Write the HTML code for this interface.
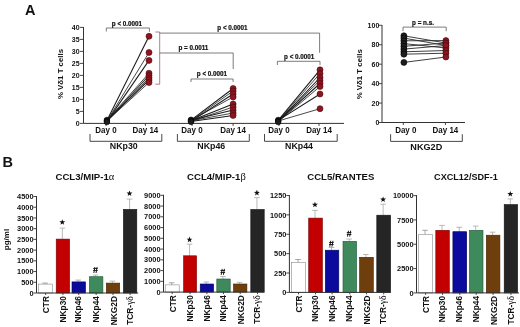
<!DOCTYPE html>
<html><head><meta charset="utf-8"><style>
html,body{margin:0;padding:0;background:#fff;width:520px;height:327px;overflow:hidden}
svg{display:block;font-family:"Liberation Sans", sans-serif;filter:blur(0.5px)}
</style></head><body>
<svg width="520" height="327" viewBox="0 0 520 327">
<rect width="520" height="327" fill="#fff"/>
<text x="25.0" y="14.8" font-size="14.5" text-anchor="start" font-weight="bold" fill="#111">A</text>
<line x1="83.5" y1="27.0" x2="83.5" y2="123.4" stroke="#333" stroke-width="1.0"/>
<line x1="80.0" y1="123.4" x2="83.5" y2="123.4" stroke="#333" stroke-width="0.9"/>
<text x="79.6" y="125.85000000000001" font-size="7" text-anchor="end" font-weight="bold" fill="#111">0</text>
<line x1="80.0" y1="111.4" x2="83.5" y2="111.4" stroke="#333" stroke-width="0.9"/>
<text x="79.6" y="113.85000000000001" font-size="7" text-anchor="end" font-weight="bold" fill="#111">5</text>
<line x1="80.0" y1="99.4" x2="83.5" y2="99.4" stroke="#333" stroke-width="0.9"/>
<text x="79.6" y="101.85000000000001" font-size="7" text-anchor="end" font-weight="bold" fill="#111">10</text>
<line x1="80.0" y1="87.4" x2="83.5" y2="87.4" stroke="#333" stroke-width="0.9"/>
<text x="79.6" y="89.85000000000001" font-size="7" text-anchor="end" font-weight="bold" fill="#111">15</text>
<line x1="80.0" y1="75.4" x2="83.5" y2="75.4" stroke="#333" stroke-width="0.9"/>
<text x="79.6" y="77.85000000000001" font-size="7" text-anchor="end" font-weight="bold" fill="#111">20</text>
<line x1="80.0" y1="63.400000000000006" x2="83.5" y2="63.400000000000006" stroke="#333" stroke-width="0.9"/>
<text x="79.6" y="65.85000000000001" font-size="7" text-anchor="end" font-weight="bold" fill="#111">25</text>
<line x1="80.0" y1="51.400000000000006" x2="83.5" y2="51.400000000000006" stroke="#333" stroke-width="0.9"/>
<text x="79.6" y="53.85000000000001" font-size="7" text-anchor="end" font-weight="bold" fill="#111">30</text>
<line x1="80.0" y1="39.400000000000006" x2="83.5" y2="39.400000000000006" stroke="#333" stroke-width="0.9"/>
<text x="79.6" y="41.85000000000001" font-size="7" text-anchor="end" font-weight="bold" fill="#111">35</text>
<line x1="80.0" y1="27.400000000000006" x2="83.5" y2="27.400000000000006" stroke="#333" stroke-width="0.9"/>
<text x="79.6" y="29.850000000000005" font-size="7" text-anchor="end" font-weight="bold" fill="#111">40</text>
<text x="0" y="0" transform="translate(62.8 74.0) rotate(-90)" font-size="7.85" text-anchor="middle" font-weight="bold" fill="#111">% V&#948;1 T cells</text>
<line x1="83.5" y1="123.4" x2="344.0" y2="123.4" stroke="#333" stroke-width="1.0"/>
<line x1="106.0" y1="123.4" x2="106.0" y2="125.9" stroke="#333" stroke-width="0.9"/>
<line x1="145.4" y1="123.4" x2="145.4" y2="125.9" stroke="#333" stroke-width="0.9"/>
<text x="0" y="0" transform="translate(106.0 133.3) scale(0.94 1)" font-size="8.5" text-anchor="middle" font-weight="bold" fill="#111">Day 0</text>
<text x="0" y="0" transform="translate(145.4 133.3) scale(0.94 1)" font-size="8.5" text-anchor="middle" font-weight="bold" fill="#111">Day 14</text>
<polyline points="90.0,134.0 90.0,141.3 161.8,141.3 161.8,134.0" fill="none" stroke="#333" stroke-width="0.9"/>
<text x="0" y="0" transform="translate(123.8 149.2) scale(0.93 1)" font-size="9.5" text-anchor="middle" font-weight="bold" fill="#111">NKp30</text>
<line x1="106.9" y1="120.4" x2="149.0" y2="36.3" stroke="#1a1a1a" stroke-width="1.05"/>
<line x1="106.9" y1="121.0" x2="149.0" y2="52.5" stroke="#1a1a1a" stroke-width="0.8"/>
<line x1="106.9" y1="121.6" x2="149.0" y2="60.4" stroke="#1a1a1a" stroke-width="1.05"/>
<line x1="106.9" y1="120.4" x2="149.0" y2="73.2" stroke="#1a1a1a" stroke-width="0.8"/>
<line x1="106.9" y1="121.0" x2="149.0" y2="75.5" stroke="#1a1a1a" stroke-width="1.05"/>
<line x1="106.9" y1="121.6" x2="149.0" y2="77.8" stroke="#1a1a1a" stroke-width="0.8"/>
<line x1="106.9" y1="120.4" x2="149.0" y2="80.0" stroke="#1a1a1a" stroke-width="1.05"/>
<line x1="106.9" y1="121.0" x2="149.0" y2="82.5" stroke="#1a1a1a" stroke-width="0.8"/>
<circle cx="106.9" cy="120.0" r="2.8" fill="#1e1e1e" stroke="#000" stroke-width="0.6"/>
<circle cx="106.9" cy="121.0" r="2.8" fill="#1e1e1e" stroke="#000" stroke-width="0.6"/>
<circle cx="106.9" cy="122.0" r="2.8" fill="#1e1e1e" stroke="#000" stroke-width="0.6"/>
<circle cx="149.0" cy="36.3" r="3.0" fill="#8e1420" stroke="#4a0808" stroke-width="0.6"/>
<circle cx="149.0" cy="52.5" r="3.0" fill="#8e1420" stroke="#4a0808" stroke-width="0.6"/>
<circle cx="149.0" cy="60.4" r="3.0" fill="#8e1420" stroke="#4a0808" stroke-width="0.6"/>
<circle cx="149.0" cy="73.2" r="3.0" fill="#8e1420" stroke="#4a0808" stroke-width="0.6"/>
<circle cx="149.0" cy="75.5" r="3.0" fill="#8e1420" stroke="#4a0808" stroke-width="0.6"/>
<circle cx="149.0" cy="77.8" r="3.0" fill="#8e1420" stroke="#4a0808" stroke-width="0.6"/>
<circle cx="149.0" cy="80.0" r="3.0" fill="#8e1420" stroke="#4a0808" stroke-width="0.6"/>
<circle cx="149.0" cy="82.5" r="3.0" fill="#8e1420" stroke="#4a0808" stroke-width="0.6"/>
<line x1="192.0" y1="123.4" x2="192.0" y2="125.9" stroke="#333" stroke-width="0.9"/>
<line x1="233.1" y1="123.4" x2="233.1" y2="125.9" stroke="#333" stroke-width="0.9"/>
<text x="0" y="0" transform="translate(192.0 133.3) scale(0.94 1)" font-size="8.5" text-anchor="middle" font-weight="bold" fill="#111">Day 0</text>
<text x="0" y="0" transform="translate(233.1 133.3) scale(0.94 1)" font-size="8.5" text-anchor="middle" font-weight="bold" fill="#111">Day 14</text>
<polyline points="177.4,134.0 177.4,141.3 249.3,141.3 249.3,134.0" fill="none" stroke="#333" stroke-width="0.9"/>
<text x="0" y="0" transform="translate(211.3 149.2) scale(0.93 1)" font-size="9.5" text-anchor="middle" font-weight="bold" fill="#111">NKp46</text>
<line x1="191.0" y1="120.2" x2="233.1" y2="88.5" stroke="#1a1a1a" stroke-width="1.05"/>
<line x1="191.0" y1="120.8" x2="233.1" y2="91.0" stroke="#1a1a1a" stroke-width="0.8"/>
<line x1="191.0" y1="121.39999999999999" x2="233.1" y2="94.0" stroke="#1a1a1a" stroke-width="1.05"/>
<line x1="191.0" y1="120.2" x2="233.1" y2="97.0" stroke="#1a1a1a" stroke-width="0.8"/>
<line x1="191.0" y1="120.8" x2="233.1" y2="104.0" stroke="#1a1a1a" stroke-width="1.05"/>
<line x1="191.0" y1="121.39999999999999" x2="233.1" y2="107.0" stroke="#1a1a1a" stroke-width="0.8"/>
<line x1="191.0" y1="120.2" x2="233.1" y2="110.0" stroke="#1a1a1a" stroke-width="1.05"/>
<line x1="191.0" y1="120.8" x2="233.1" y2="113.0" stroke="#1a1a1a" stroke-width="0.8"/>
<line x1="191.0" y1="121.39999999999999" x2="233.1" y2="115.5" stroke="#1a1a1a" stroke-width="1.05"/>
<circle cx="191.0" cy="119.8" r="2.8" fill="#1e1e1e" stroke="#000" stroke-width="0.6"/>
<circle cx="191.0" cy="120.8" r="2.8" fill="#1e1e1e" stroke="#000" stroke-width="0.6"/>
<circle cx="191.0" cy="121.8" r="2.8" fill="#1e1e1e" stroke="#000" stroke-width="0.6"/>
<circle cx="233.1" cy="88.5" r="3.0" fill="#8e1420" stroke="#4a0808" stroke-width="0.6"/>
<circle cx="233.1" cy="91.0" r="3.0" fill="#8e1420" stroke="#4a0808" stroke-width="0.6"/>
<circle cx="233.1" cy="94.0" r="3.0" fill="#8e1420" stroke="#4a0808" stroke-width="0.6"/>
<circle cx="233.1" cy="97.0" r="3.0" fill="#8e1420" stroke="#4a0808" stroke-width="0.6"/>
<circle cx="233.1" cy="104.0" r="3.0" fill="#8e1420" stroke="#4a0808" stroke-width="0.6"/>
<circle cx="233.1" cy="107.0" r="3.0" fill="#8e1420" stroke="#4a0808" stroke-width="0.6"/>
<circle cx="233.1" cy="110.0" r="3.0" fill="#8e1420" stroke="#4a0808" stroke-width="0.6"/>
<circle cx="233.1" cy="113.0" r="3.0" fill="#8e1420" stroke="#4a0808" stroke-width="0.6"/>
<circle cx="233.1" cy="115.5" r="3.0" fill="#8e1420" stroke="#4a0808" stroke-width="0.6"/>
<line x1="279.0" y1="123.4" x2="279.0" y2="125.9" stroke="#333" stroke-width="0.9"/>
<line x1="319.0" y1="123.4" x2="319.0" y2="125.9" stroke="#333" stroke-width="0.9"/>
<text x="0" y="0" transform="translate(279.0 133.3) scale(0.94 1)" font-size="8.5" text-anchor="middle" font-weight="bold" fill="#111">Day 0</text>
<text x="0" y="0" transform="translate(319.0 133.3) scale(0.94 1)" font-size="8.5" text-anchor="middle" font-weight="bold" fill="#111">Day 14</text>
<polyline points="264.5,134.0 264.5,141.3 337.2,141.3 337.2,134.0" fill="none" stroke="#333" stroke-width="0.9"/>
<text x="0" y="0" transform="translate(299.0 149.2) scale(0.93 1)" font-size="9.5" text-anchor="middle" font-weight="bold" fill="#111">NKp44</text>
<line x1="278.2" y1="120.4" x2="320.0" y2="69.8" stroke="#1a1a1a" stroke-width="1.05"/>
<line x1="278.2" y1="121.0" x2="320.0" y2="73.5" stroke="#1a1a1a" stroke-width="0.8"/>
<line x1="278.2" y1="121.6" x2="320.0" y2="77.5" stroke="#1a1a1a" stroke-width="1.05"/>
<line x1="278.2" y1="120.4" x2="320.0" y2="80.5" stroke="#1a1a1a" stroke-width="0.8"/>
<line x1="278.2" y1="121.0" x2="320.0" y2="83.5" stroke="#1a1a1a" stroke-width="1.05"/>
<line x1="278.2" y1="121.6" x2="320.0" y2="86.5" stroke="#1a1a1a" stroke-width="0.8"/>
<line x1="278.2" y1="120.4" x2="320.0" y2="94.0" stroke="#1a1a1a" stroke-width="1.05"/>
<line x1="278.2" y1="121.0" x2="320.0" y2="108.7" stroke="#1a1a1a" stroke-width="0.8"/>
<circle cx="278.2" cy="120.0" r="2.8" fill="#1e1e1e" stroke="#000" stroke-width="0.6"/>
<circle cx="278.2" cy="121.0" r="2.8" fill="#1e1e1e" stroke="#000" stroke-width="0.6"/>
<circle cx="278.2" cy="122.0" r="2.8" fill="#1e1e1e" stroke="#000" stroke-width="0.6"/>
<circle cx="320.0" cy="69.8" r="3.0" fill="#8e1420" stroke="#4a0808" stroke-width="0.6"/>
<circle cx="320.0" cy="73.5" r="3.0" fill="#8e1420" stroke="#4a0808" stroke-width="0.6"/>
<circle cx="320.0" cy="77.5" r="3.0" fill="#8e1420" stroke="#4a0808" stroke-width="0.6"/>
<circle cx="320.0" cy="80.5" r="3.0" fill="#8e1420" stroke="#4a0808" stroke-width="0.6"/>
<circle cx="320.0" cy="83.5" r="3.0" fill="#8e1420" stroke="#4a0808" stroke-width="0.6"/>
<circle cx="320.0" cy="86.5" r="3.0" fill="#8e1420" stroke="#4a0808" stroke-width="0.6"/>
<circle cx="320.0" cy="94.0" r="3.0" fill="#8e1420" stroke="#4a0808" stroke-width="0.6"/>
<circle cx="320.0" cy="108.7" r="3.0" fill="#8e1420" stroke="#4a0808" stroke-width="0.6"/>
<polyline points="106.3,31.5 106.3,28.0 149.4,28.0 149.4,31.8" fill="none" stroke="#5a5a5a" stroke-width="0.8"/>
<text x="127.0" y="25.8" font-size="6.3" text-anchor="middle" font-weight="bold" fill="#111" stroke="#111" stroke-width="0.2">p &lt; 0.0001</text>
<polyline points="155.3,32.0 159.7,32.0 159.7,84.2 155.3,84.2" fill="none" stroke="#8a6868" stroke-width="0.8"/>
<polyline points="159.7,33.1 319.6,33.1 319.6,52.8" fill="none" stroke="#5a5a5a" stroke-width="0.8"/>
<text x="232.5" y="29.6" font-size="6.3" text-anchor="middle" font-weight="bold" fill="#111" stroke="#111" stroke-width="0.2">p &lt; 0.0001</text>
<polyline points="159.7,53.0 233.2,53.0 233.2,69.0" fill="none" stroke="#5a5a5a" stroke-width="0.8"/>
<text x="193.4" y="50.4" font-size="6.3" text-anchor="middle" font-weight="bold" fill="#111" stroke="#111" stroke-width="0.2">p = 0.0011</text>
<polyline points="191.0,82.0 191.0,79.0 233.1,79.0 233.1,82.0" fill="none" stroke="#5a5a5a" stroke-width="0.8"/>
<text x="212.0" y="76.2" font-size="6.3" text-anchor="middle" font-weight="bold" fill="#111" stroke="#111" stroke-width="0.2">p &lt; 0.0001</text>
<polyline points="277.4,65.0 277.4,61.3 320.0,61.3 320.0,65.0" fill="none" stroke="#5a5a5a" stroke-width="0.8"/>
<text x="299.2" y="58.9" font-size="6.3" text-anchor="middle" font-weight="bold" fill="#111" stroke="#111" stroke-width="0.2">p &lt; 0.0001</text>
<line x1="382.0" y1="25.0" x2="382.0" y2="122.5" stroke="#333" stroke-width="1.0"/>
<line x1="379.0" y1="122.5" x2="382.0" y2="122.5" stroke="#333" stroke-width="0.9"/>
<text x="379.3" y="124.95" font-size="7" text-anchor="end" font-weight="bold" fill="#111">0</text>
<line x1="379.0" y1="103.06" x2="382.0" y2="103.06" stroke="#333" stroke-width="0.9"/>
<text x="379.3" y="105.51" font-size="7" text-anchor="end" font-weight="bold" fill="#111">20</text>
<line x1="379.0" y1="83.62" x2="382.0" y2="83.62" stroke="#333" stroke-width="0.9"/>
<text x="379.3" y="86.07000000000001" font-size="7" text-anchor="end" font-weight="bold" fill="#111">40</text>
<line x1="379.0" y1="64.18" x2="382.0" y2="64.18" stroke="#333" stroke-width="0.9"/>
<text x="379.3" y="66.63000000000001" font-size="7" text-anchor="end" font-weight="bold" fill="#111">60</text>
<line x1="379.0" y1="44.74000000000001" x2="382.0" y2="44.74000000000001" stroke="#333" stroke-width="0.9"/>
<text x="379.3" y="47.19000000000001" font-size="7" text-anchor="end" font-weight="bold" fill="#111">80</text>
<line x1="379.0" y1="25.299999999999997" x2="382.0" y2="25.299999999999997" stroke="#333" stroke-width="0.9"/>
<text x="379.3" y="27.749999999999996" font-size="7" text-anchor="end" font-weight="bold" fill="#111">100</text>
<text x="0" y="0" transform="translate(362.2 74.3) rotate(-90)" font-size="7.85" text-anchor="middle" font-weight="bold" fill="#111">% V&#948;1 T cells</text>
<line x1="382.0" y1="122.5" x2="465.0" y2="122.5" stroke="#333" stroke-width="1.0"/>
<line x1="403.3" y1="122.5" x2="403.3" y2="125.0" stroke="#333" stroke-width="0.9"/>
<text x="0" y="0" transform="translate(405.8 133.4) scale(0.94 1)" font-size="8.5" text-anchor="middle" font-weight="bold" fill="#111">Day 0</text>
<line x1="445.4" y1="122.5" x2="445.4" y2="125.0" stroke="#333" stroke-width="0.9"/>
<text x="0" y="0" transform="translate(445.4 133.4) scale(0.94 1)" font-size="8.5" text-anchor="middle" font-weight="bold" fill="#111">Day 14</text>
<polyline points="390.6,134.2 390.6,141.4 462.3,141.4 462.3,134.2" fill="none" stroke="#333" stroke-width="0.9"/>
<text x="0" y="0" transform="translate(426.3 149.6) scale(0.96 1)" font-size="9.5" text-anchor="middle" font-weight="bold" fill="#111">NKG2D</text>
<polyline points="403.0,31.2 403.0,27.1 446.2,27.1 446.2,31.2" fill="none" stroke="#5a5a5a" stroke-width="0.8"/>
<text x="423.0" y="24.6" font-size="6.3" text-anchor="middle" font-weight="bold" fill="#111" stroke="#111" stroke-width="0.2">p = n.s.</text>
<line x1="403.9" y1="35.8" x2="445.9" y2="43.0" stroke="#2a2a2a" stroke-width="0.9"/>
<line x1="403.9" y1="38.1" x2="445.9" y2="45.5" stroke="#2a2a2a" stroke-width="0.9"/>
<line x1="403.9" y1="40.8" x2="445.9" y2="40.6" stroke="#2a2a2a" stroke-width="0.9"/>
<line x1="403.9" y1="43.6" x2="445.9" y2="48.0" stroke="#2a2a2a" stroke-width="0.9"/>
<line x1="403.9" y1="46.3" x2="445.9" y2="43.0" stroke="#2a2a2a" stroke-width="0.9"/>
<line x1="403.9" y1="49.1" x2="445.9" y2="45.5" stroke="#2a2a2a" stroke-width="0.9"/>
<line x1="403.9" y1="51.8" x2="445.9" y2="50.5" stroke="#2a2a2a" stroke-width="0.9"/>
<line x1="403.9" y1="54.2" x2="445.9" y2="53.2" stroke="#2a2a2a" stroke-width="0.9"/>
<line x1="403.9" y1="62.4" x2="445.9" y2="57.0" stroke="#2a2a2a" stroke-width="0.9"/>
<circle cx="403.9" cy="35.8" r="3.0" fill="#1e1e1e" stroke="#000" stroke-width="0.6"/>
<circle cx="403.9" cy="38.1" r="3.0" fill="#1e1e1e" stroke="#000" stroke-width="0.6"/>
<circle cx="403.9" cy="40.8" r="3.0" fill="#1e1e1e" stroke="#000" stroke-width="0.6"/>
<circle cx="403.9" cy="43.6" r="3.0" fill="#1e1e1e" stroke="#000" stroke-width="0.6"/>
<circle cx="403.9" cy="46.3" r="3.0" fill="#1e1e1e" stroke="#000" stroke-width="0.6"/>
<circle cx="403.9" cy="49.1" r="3.0" fill="#1e1e1e" stroke="#000" stroke-width="0.6"/>
<circle cx="403.9" cy="51.8" r="3.0" fill="#1e1e1e" stroke="#000" stroke-width="0.6"/>
<circle cx="403.9" cy="54.2" r="3.0" fill="#1e1e1e" stroke="#000" stroke-width="0.6"/>
<circle cx="403.9" cy="62.4" r="3.0" fill="#1e1e1e" stroke="#000" stroke-width="0.6"/>
<circle cx="445.9" cy="43.0" r="3.0" fill="#8e1420" stroke="#3a0808" stroke-width="0.6"/>
<circle cx="445.9" cy="45.5" r="3.0" fill="#8e1420" stroke="#3a0808" stroke-width="0.6"/>
<circle cx="445.9" cy="40.6" r="3.0" fill="#8e1420" stroke="#3a0808" stroke-width="0.6"/>
<circle cx="445.9" cy="48.0" r="3.0" fill="#8e1420" stroke="#3a0808" stroke-width="0.6"/>
<circle cx="445.9" cy="43.0" r="3.0" fill="#8e1420" stroke="#3a0808" stroke-width="0.6"/>
<circle cx="445.9" cy="45.5" r="3.0" fill="#8e1420" stroke="#3a0808" stroke-width="0.6"/>
<circle cx="445.9" cy="50.5" r="3.0" fill="#8e1420" stroke="#3a0808" stroke-width="0.6"/>
<circle cx="445.9" cy="53.2" r="3.0" fill="#8e1420" stroke="#3a0808" stroke-width="0.6"/>
<circle cx="445.9" cy="57.0" r="3.0" fill="#8e1420" stroke="#3a0808" stroke-width="0.6"/>
<text x="2.4" y="167.2" font-size="14.5" text-anchor="start" font-weight="bold" fill="#111">B</text>
<text x="0" y="0" transform="translate(8.6 239.5) rotate(-90)" font-size="8" text-anchor="middle" font-weight="bold" fill="#111">pg/ml</text>
<text x="84.9" y="180.0" font-size="9.6" text-anchor="middle" font-weight="bold" fill="#111">CCL3/MIP-1<tspan font-family="Liberation Serif" font-weight="normal" font-size="10.5">&#945;</tspan></text>
<line x1="36.5" y1="196.0" x2="36.5" y2="293.0" stroke="#333" stroke-width="1.0"/>
<line x1="33.5" y1="293.0" x2="36.5" y2="293.0" stroke="#333" stroke-width="0.9"/>
<text x="33.55" y="295.65" font-size="7.4" text-anchor="end" font-weight="bold" fill="#111">0</text>
<line x1="33.5" y1="282.27777777777777" x2="36.5" y2="282.27777777777777" stroke="#333" stroke-width="0.9"/>
<text x="33.55" y="284.92777777777775" font-size="7.4" text-anchor="end" font-weight="bold" fill="#111">500</text>
<line x1="33.5" y1="271.55555555555554" x2="36.5" y2="271.55555555555554" stroke="#333" stroke-width="0.9"/>
<text x="33.55" y="274.2055555555555" font-size="7.4" text-anchor="end" font-weight="bold" fill="#111">1000</text>
<line x1="33.5" y1="260.8333333333333" x2="36.5" y2="260.8333333333333" stroke="#333" stroke-width="0.9"/>
<text x="33.55" y="263.4833333333333" font-size="7.4" text-anchor="end" font-weight="bold" fill="#111">1500</text>
<line x1="33.5" y1="250.11111111111111" x2="36.5" y2="250.11111111111111" stroke="#333" stroke-width="0.9"/>
<text x="33.55" y="252.76111111111112" font-size="7.4" text-anchor="end" font-weight="bold" fill="#111">2000</text>
<line x1="33.5" y1="239.38888888888889" x2="36.5" y2="239.38888888888889" stroke="#333" stroke-width="0.9"/>
<text x="33.55" y="242.0388888888889" font-size="7.4" text-anchor="end" font-weight="bold" fill="#111">2500</text>
<line x1="33.5" y1="228.66666666666669" x2="36.5" y2="228.66666666666669" stroke="#333" stroke-width="0.9"/>
<text x="33.55" y="231.3166666666667" font-size="7.4" text-anchor="end" font-weight="bold" fill="#111">3000</text>
<line x1="33.5" y1="217.94444444444446" x2="36.5" y2="217.94444444444446" stroke="#333" stroke-width="0.9"/>
<text x="33.55" y="220.59444444444446" font-size="7.4" text-anchor="end" font-weight="bold" fill="#111">3500</text>
<line x1="33.5" y1="207.22222222222223" x2="36.5" y2="207.22222222222223" stroke="#333" stroke-width="0.9"/>
<text x="33.55" y="209.87222222222223" font-size="7.4" text-anchor="end" font-weight="bold" fill="#111">4000</text>
<line x1="33.5" y1="196.5" x2="36.5" y2="196.5" stroke="#333" stroke-width="0.9"/>
<text x="33.55" y="199.15" font-size="7.4" text-anchor="end" font-weight="bold" fill="#111">4500</text>
<line x1="45.10000000000001" y1="284.1" x2="45.10000000000001" y2="283.1" stroke="#909090" stroke-width="0.8"/>
<line x1="42.30000000000001" y1="283.1" x2="47.900000000000006" y2="283.1" stroke="#909090" stroke-width="0.8"/>
<rect x="38.6" y="284.1" width="14.100000000000001" height="8.899999999999977" fill="#ffffff" stroke="#8a8a8a" stroke-width="0.6"/>
<line x1="45.650000000000006" y1="293.0" x2="45.650000000000006" y2="295.0" stroke="#333" stroke-width="0.9"/>
<text x="0" y="0" transform="translate(49.25000000000001 296.1) rotate(-90)" font-size="8.3" text-anchor="end" font-weight="bold" fill="#111">CTR</text>
<line x1="62.35" y1="239.1" x2="62.35" y2="228.1" stroke="#a8a8a8" stroke-width="0.8"/>
<line x1="59.550000000000004" y1="228.1" x2="65.15" y2="228.1" stroke="#a8a8a8" stroke-width="0.8"/>
<rect x="56.2" y="239.1" width="13.399999999999991" height="53.900000000000006" fill="#c20000" stroke="#7a0000" stroke-width="0.6"/>
<line x1="62.9" y1="293.0" x2="62.9" y2="295.0" stroke="#333" stroke-width="0.9"/>
<text x="0" y="0" transform="translate(65.5 296.1) rotate(-90)" font-size="8.3" text-anchor="end" font-weight="bold" fill="#111">NKp30</text>
<polygon points="62.30,219.20 63.07,221.25 65.25,221.34 63.54,222.70 64.12,224.81 62.30,223.60 60.48,224.81 61.06,222.70 59.35,221.34 61.53,221.25" fill="#111"/>
<line x1="78.2" y1="281.9" x2="78.2" y2="280.1" stroke="#a0a0b8" stroke-width="0.8"/>
<line x1="75.4" y1="280.1" x2="81.0" y2="280.1" stroke="#a0a0b8" stroke-width="0.8"/>
<rect x="72.0" y="281.9" width="13.5" height="11.100000000000023" fill="#0a0a9c" stroke="#00005a" stroke-width="0.6"/>
<line x1="78.75" y1="293.0" x2="78.75" y2="295.0" stroke="#333" stroke-width="0.9"/>
<text x="0" y="0" transform="translate(81.35 296.1) rotate(-90)" font-size="8.3" text-anchor="end" font-weight="bold" fill="#111">NKp46</text>
<line x1="95.60000000000001" y1="276.7" x2="95.60000000000001" y2="275.0" stroke="#a0b0a8" stroke-width="0.8"/>
<line x1="92.80000000000001" y1="275.0" x2="98.4" y2="275.0" stroke="#a0b0a8" stroke-width="0.8"/>
<rect x="89.4" y="276.7" width="13.5" height="16.30000000000001" fill="#3f8a5c" stroke="#24553a" stroke-width="0.6"/>
<line x1="96.15" y1="293.0" x2="96.15" y2="295.0" stroke="#333" stroke-width="0.9"/>
<text x="0" y="0" transform="translate(98.75 296.1) rotate(-90)" font-size="8.3" text-anchor="end" font-weight="bold" fill="#111">NKp44</text>
<line x1="94.85" y1="267.1" x2="93.85" y2="273.0" stroke="#151515" stroke-width="1.0"/>
<line x1="97.05" y1="267.1" x2="96.05" y2="273.0" stroke="#151515" stroke-width="1.0"/>
<line x1="93.15" y1="268.5" x2="97.75" y2="268.5" stroke="#151515" stroke-width="0.9"/>
<line x1="93.15" y1="270.5" x2="97.75" y2="270.5" stroke="#151515" stroke-width="0.9"/>
<line x1="112.45" y1="283.1" x2="112.45" y2="281.1" stroke="#b0a898" stroke-width="0.8"/>
<line x1="109.65" y1="281.1" x2="115.25" y2="281.1" stroke="#b0a898" stroke-width="0.8"/>
<rect x="106.3" y="283.1" width="13.400000000000006" height="9.899999999999977" fill="#6e3f0c" stroke="#3e2206" stroke-width="0.6"/>
<line x1="113.0" y1="293.0" x2="113.0" y2="295.0" stroke="#333" stroke-width="0.9"/>
<text x="0" y="0" transform="translate(116.6 296.1) rotate(-90)" font-size="8.3" text-anchor="end" font-weight="bold" fill="#111">NKG2D</text>
<line x1="129.55" y1="209.4" x2="129.55" y2="199.1" stroke="#aaa" stroke-width="0.8"/>
<line x1="126.75000000000001" y1="199.1" x2="132.35000000000002" y2="199.1" stroke="#aaa" stroke-width="0.8"/>
<rect x="123.4" y="209.4" width="13.400000000000006" height="83.6" fill="#252525" stroke="#111" stroke-width="0.6"/>
<line x1="130.10000000000002" y1="293.0" x2="130.10000000000002" y2="295.0" stroke="#333" stroke-width="0.9"/>
<text x="0" y="0" transform="translate(132.70000000000002 296.1) rotate(-90)" font-size="8.3" text-anchor="end" font-weight="bold" fill="#111">TCR-<tspan font-family="Liberation Serif" font-weight="normal" font-size="9.6">&#947;&#948;</tspan></text>
<polygon points="129.50,190.40 130.27,192.45 132.45,192.54 130.74,193.90 131.32,196.01 129.50,194.80 127.68,196.01 128.26,193.90 126.55,192.54 128.73,192.45" fill="#111"/>
<line x1="36.5" y1="293.0" x2="138.2" y2="293.0" stroke="#333" stroke-width="1.0"/>
<text x="216.4" y="180.0" font-size="9.6" text-anchor="middle" font-weight="bold" fill="#111">CCL4/MIP-1<tspan font-family="Liberation Serif" font-weight="normal" font-size="10.5">&#946;</tspan></text>
<line x1="163.5" y1="194.8" x2="163.5" y2="292.1" stroke="#333" stroke-width="1.0"/>
<line x1="160.5" y1="292.1" x2="163.5" y2="292.1" stroke="#333" stroke-width="0.9"/>
<text x="160.55" y="294.75" font-size="7.4" text-anchor="end" font-weight="bold" fill="#111">0</text>
<line x1="160.5" y1="281.3444444444445" x2="163.5" y2="281.3444444444445" stroke="#333" stroke-width="0.9"/>
<text x="160.55" y="283.99444444444447" font-size="7.4" text-anchor="end" font-weight="bold" fill="#111">1000</text>
<line x1="160.5" y1="270.5888888888889" x2="163.5" y2="270.5888888888889" stroke="#333" stroke-width="0.9"/>
<text x="160.55" y="273.2388888888889" font-size="7.4" text-anchor="end" font-weight="bold" fill="#111">2000</text>
<line x1="160.5" y1="259.83333333333337" x2="163.5" y2="259.83333333333337" stroke="#333" stroke-width="0.9"/>
<text x="160.55" y="262.48333333333335" font-size="7.4" text-anchor="end" font-weight="bold" fill="#111">3000</text>
<line x1="160.5" y1="249.07777777777778" x2="163.5" y2="249.07777777777778" stroke="#333" stroke-width="0.9"/>
<text x="160.55" y="251.7277777777778" font-size="7.4" text-anchor="end" font-weight="bold" fill="#111">4000</text>
<line x1="160.5" y1="238.32222222222225" x2="163.5" y2="238.32222222222225" stroke="#333" stroke-width="0.9"/>
<text x="160.55" y="240.97222222222226" font-size="7.4" text-anchor="end" font-weight="bold" fill="#111">5000</text>
<line x1="160.5" y1="227.5666666666667" x2="163.5" y2="227.5666666666667" stroke="#333" stroke-width="0.9"/>
<text x="160.55" y="230.2166666666667" font-size="7.4" text-anchor="end" font-weight="bold" fill="#111">6000</text>
<line x1="160.5" y1="216.81111111111113" x2="163.5" y2="216.81111111111113" stroke="#333" stroke-width="0.9"/>
<text x="160.55" y="219.46111111111114" font-size="7.4" text-anchor="end" font-weight="bold" fill="#111">7000</text>
<line x1="160.5" y1="206.05555555555557" x2="163.5" y2="206.05555555555557" stroke="#333" stroke-width="0.9"/>
<text x="160.55" y="208.70555555555558" font-size="7.4" text-anchor="end" font-weight="bold" fill="#111">8000</text>
<line x1="160.5" y1="195.3" x2="163.5" y2="195.3" stroke="#333" stroke-width="0.9"/>
<text x="160.55" y="197.95000000000002" font-size="7.4" text-anchor="end" font-weight="bold" fill="#111">9000</text>
<line x1="171.64999999999998" y1="284.9" x2="171.64999999999998" y2="282.8" stroke="#909090" stroke-width="0.8"/>
<line x1="168.84999999999997" y1="282.8" x2="174.45" y2="282.8" stroke="#909090" stroke-width="0.8"/>
<rect x="165.2" y="284.9" width="14.0" height="7.2000000000000455" fill="#ffffff" stroke="#8a8a8a" stroke-width="0.6"/>
<line x1="172.2" y1="292.1" x2="172.2" y2="294.1" stroke="#333" stroke-width="0.9"/>
<text x="0" y="0" transform="translate(175.79999999999998 295.20000000000005) rotate(-90)" font-size="8.3" text-anchor="end" font-weight="bold" fill="#111">CTR</text>
<line x1="189.54999999999998" y1="255.8" x2="189.54999999999998" y2="244.2" stroke="#a8a8a8" stroke-width="0.8"/>
<line x1="186.74999999999997" y1="244.2" x2="192.35" y2="244.2" stroke="#a8a8a8" stroke-width="0.8"/>
<rect x="183.6" y="255.8" width="13.0" height="36.30000000000001" fill="#c20000" stroke="#7a0000" stroke-width="0.6"/>
<line x1="190.1" y1="292.1" x2="190.1" y2="294.1" stroke="#333" stroke-width="0.9"/>
<text x="0" y="0" transform="translate(192.7 295.20000000000005) rotate(-90)" font-size="8.3" text-anchor="end" font-weight="bold" fill="#111">NKp30</text>
<polygon points="189.50,236.60 190.27,238.65 192.45,238.74 190.74,240.10 191.32,242.21 189.50,241.00 187.68,242.21 188.26,240.10 186.55,238.74 188.73,238.65" fill="#111"/>
<line x1="206.34999999999997" y1="284.0" x2="206.34999999999997" y2="282.0" stroke="#a0a0b8" stroke-width="0.8"/>
<line x1="203.54999999999995" y1="282.0" x2="209.14999999999998" y2="282.0" stroke="#a0a0b8" stroke-width="0.8"/>
<rect x="200.2" y="284.0" width="13.400000000000006" height="8.100000000000023" fill="#0a0a9c" stroke="#00005a" stroke-width="0.6"/>
<line x1="206.89999999999998" y1="292.1" x2="206.89999999999998" y2="294.1" stroke="#333" stroke-width="0.9"/>
<text x="0" y="0" transform="translate(209.49999999999997 295.20000000000005) rotate(-90)" font-size="8.3" text-anchor="end" font-weight="bold" fill="#111">NKp46</text>
<line x1="222.95" y1="279.0" x2="222.95" y2="276.5" stroke="#a0b0a8" stroke-width="0.8"/>
<line x1="220.14999999999998" y1="276.5" x2="225.75" y2="276.5" stroke="#a0b0a8" stroke-width="0.8"/>
<rect x="216.8" y="279.0" width="13.399999999999977" height="13.100000000000023" fill="#3f8a5c" stroke="#24553a" stroke-width="0.6"/>
<line x1="223.5" y1="292.1" x2="223.5" y2="294.1" stroke="#333" stroke-width="0.9"/>
<text x="0" y="0" transform="translate(226.1 295.20000000000005) rotate(-90)" font-size="8.3" text-anchor="end" font-weight="bold" fill="#111">NKp44</text>
<line x1="222.2" y1="268.9" x2="221.2" y2="274.8" stroke="#151515" stroke-width="1.0"/>
<line x1="224.4" y1="268.9" x2="223.4" y2="274.8" stroke="#151515" stroke-width="1.0"/>
<line x1="220.5" y1="270.5" x2="225.1" y2="270.5" stroke="#151515" stroke-width="0.9"/>
<line x1="220.5" y1="272.5" x2="225.1" y2="272.5" stroke="#151515" stroke-width="0.9"/>
<line x1="239.64999999999998" y1="284.0" x2="239.64999999999998" y2="282.3" stroke="#b0a898" stroke-width="0.8"/>
<line x1="236.84999999999997" y1="282.3" x2="242.45" y2="282.3" stroke="#b0a898" stroke-width="0.8"/>
<rect x="233.5" y="284.0" width="13.400000000000006" height="8.100000000000023" fill="#6e3f0c" stroke="#3e2206" stroke-width="0.6"/>
<line x1="240.2" y1="292.1" x2="240.2" y2="294.1" stroke="#333" stroke-width="0.9"/>
<text x="0" y="0" transform="translate(243.79999999999998 295.20000000000005) rotate(-90)" font-size="8.3" text-anchor="end" font-weight="bold" fill="#111">NKG2D</text>
<line x1="256.95" y1="209.5" x2="256.95" y2="197.6" stroke="#aaa" stroke-width="0.8"/>
<line x1="254.14999999999998" y1="197.6" x2="259.75" y2="197.6" stroke="#aaa" stroke-width="0.8"/>
<rect x="250.8" y="209.5" width="13.399999999999977" height="82.60000000000002" fill="#252525" stroke="#111" stroke-width="0.6"/>
<line x1="257.5" y1="292.1" x2="257.5" y2="294.1" stroke="#333" stroke-width="0.9"/>
<text x="0" y="0" transform="translate(260.1 295.20000000000005) rotate(-90)" font-size="8.3" text-anchor="end" font-weight="bold" fill="#111">TCR-<tspan font-family="Liberation Serif" font-weight="normal" font-size="9.6">&#947;&#948;</tspan></text>
<polygon points="256.90,189.80 257.67,191.85 259.85,191.94 258.14,193.30 258.72,195.41 256.90,194.20 255.08,195.41 255.66,193.30 253.95,191.94 256.13,191.85" fill="#111"/>
<line x1="163.5" y1="292.1" x2="264.4" y2="292.1" stroke="#333" stroke-width="1.0"/>
<text x="340.8" y="180.0" font-size="9.6" text-anchor="middle" font-weight="bold" fill="#111">CCL5/RANTES</text>
<line x1="289.4" y1="195.0" x2="289.4" y2="292.4" stroke="#333" stroke-width="1.0"/>
<line x1="286.4" y1="292.4" x2="289.4" y2="292.4" stroke="#333" stroke-width="0.9"/>
<text x="286.45" y="295.04999999999995" font-size="7.4" text-anchor="end" font-weight="bold" fill="#111">0</text>
<line x1="286.4" y1="273.02" x2="289.4" y2="273.02" stroke="#333" stroke-width="0.9"/>
<text x="286.45" y="275.66999999999996" font-size="7.4" text-anchor="end" font-weight="bold" fill="#111">250</text>
<line x1="286.4" y1="253.64" x2="289.4" y2="253.64" stroke="#333" stroke-width="0.9"/>
<text x="286.45" y="256.28999999999996" font-size="7.4" text-anchor="end" font-weight="bold" fill="#111">500</text>
<line x1="286.4" y1="234.26" x2="289.4" y2="234.26" stroke="#333" stroke-width="0.9"/>
<text x="286.45" y="236.91" font-size="7.4" text-anchor="end" font-weight="bold" fill="#111">750</text>
<line x1="286.4" y1="214.88" x2="289.4" y2="214.88" stroke="#333" stroke-width="0.9"/>
<text x="286.45" y="217.53" font-size="7.4" text-anchor="end" font-weight="bold" fill="#111">1000</text>
<line x1="286.4" y1="195.5" x2="289.4" y2="195.5" stroke="#333" stroke-width="0.9"/>
<text x="286.45" y="198.15" font-size="7.4" text-anchor="end" font-weight="bold" fill="#111">1250</text>
<line x1="298.0" y1="262.5" x2="298.0" y2="259.5" stroke="#909090" stroke-width="0.8"/>
<line x1="295.2" y1="259.5" x2="300.8" y2="259.5" stroke="#909090" stroke-width="0.8"/>
<rect x="291.5" y="262.5" width="14.100000000000023" height="29.899999999999977" fill="#ffffff" stroke="#8a8a8a" stroke-width="0.6"/>
<line x1="298.55" y1="292.4" x2="298.55" y2="294.4" stroke="#333" stroke-width="0.9"/>
<text x="0" y="0" transform="translate(302.15000000000003 295.5) rotate(-90)" font-size="8.3" text-anchor="end" font-weight="bold" fill="#111">CTR</text>
<line x1="314.99999999999994" y1="218.1" x2="314.99999999999994" y2="210.4" stroke="#a8a8a8" stroke-width="0.8"/>
<line x1="312.19999999999993" y1="210.4" x2="317.79999999999995" y2="210.4" stroke="#a8a8a8" stroke-width="0.8"/>
<rect x="308.7" y="218.1" width="13.699999999999989" height="74.29999999999998" fill="#c20000" stroke="#7a0000" stroke-width="0.6"/>
<line x1="315.54999999999995" y1="292.4" x2="315.54999999999995" y2="294.4" stroke="#333" stroke-width="0.9"/>
<text x="0" y="0" transform="translate(318.15 295.5) rotate(-90)" font-size="8.3" text-anchor="end" font-weight="bold" fill="#111">NKp30</text>
<polygon points="314.95,201.70 315.72,203.75 317.90,203.84 316.19,205.20 316.77,207.31 314.95,206.10 313.13,207.31 313.71,205.20 312.00,203.84 314.18,203.75" fill="#111"/>
<line x1="331.5" y1="250.2" x2="331.5" y2="247.5" stroke="#a0a0b8" stroke-width="0.8"/>
<line x1="328.7" y1="247.5" x2="334.3" y2="247.5" stroke="#a0a0b8" stroke-width="0.8"/>
<rect x="325.3" y="250.2" width="13.5" height="42.19999999999999" fill="#0a0a9c" stroke="#00005a" stroke-width="0.6"/>
<line x1="332.05" y1="292.4" x2="332.05" y2="294.4" stroke="#333" stroke-width="0.9"/>
<text x="0" y="0" transform="translate(334.65000000000003 295.5) rotate(-90)" font-size="8.3" text-anchor="end" font-weight="bold" fill="#111">NKp46</text>
<line x1="330.75" y1="240.8" x2="329.75" y2="246.7" stroke="#151515" stroke-width="1.0"/>
<line x1="332.95" y1="240.8" x2="331.95" y2="246.7" stroke="#151515" stroke-width="1.0"/>
<line x1="329.05" y1="242.5" x2="333.65" y2="242.5" stroke="#151515" stroke-width="0.9"/>
<line x1="329.05" y1="244.5" x2="333.65" y2="244.5" stroke="#151515" stroke-width="0.9"/>
<line x1="349.25" y1="241.3" x2="349.25" y2="239.0" stroke="#a0b0a8" stroke-width="0.8"/>
<line x1="346.45" y1="239.0" x2="352.05" y2="239.0" stroke="#a0b0a8" stroke-width="0.8"/>
<rect x="343.0" y="241.3" width="13.600000000000023" height="51.099999999999966" fill="#3f8a5c" stroke="#24553a" stroke-width="0.6"/>
<line x1="349.8" y1="292.4" x2="349.8" y2="294.4" stroke="#333" stroke-width="0.9"/>
<text x="0" y="0" transform="translate(352.40000000000003 295.5) rotate(-90)" font-size="8.3" text-anchor="end" font-weight="bold" fill="#111">NKp44</text>
<line x1="348.5" y1="230.7" x2="347.5" y2="236.6" stroke="#151515" stroke-width="1.0"/>
<line x1="350.7" y1="230.7" x2="349.7" y2="236.6" stroke="#151515" stroke-width="1.0"/>
<line x1="346.8" y1="232.5" x2="351.4" y2="232.5" stroke="#151515" stroke-width="0.9"/>
<line x1="346.8" y1="234.5" x2="351.4" y2="234.5" stroke="#151515" stroke-width="0.9"/>
<line x1="365.90000000000003" y1="257.3" x2="365.90000000000003" y2="254.5" stroke="#b0a898" stroke-width="0.8"/>
<line x1="363.1" y1="254.5" x2="368.70000000000005" y2="254.5" stroke="#b0a898" stroke-width="0.8"/>
<rect x="359.6" y="257.3" width="13.699999999999989" height="35.099999999999966" fill="#6e3f0c" stroke="#3e2206" stroke-width="0.6"/>
<line x1="366.45000000000005" y1="292.4" x2="366.45000000000005" y2="294.4" stroke="#333" stroke-width="0.9"/>
<text x="0" y="0" transform="translate(370.05000000000007 295.5) rotate(-90)" font-size="8.3" text-anchor="end" font-weight="bold" fill="#111">NKG2D</text>
<line x1="383.15000000000003" y1="215.2" x2="383.15000000000003" y2="204.2" stroke="#aaa" stroke-width="0.8"/>
<line x1="380.35" y1="204.2" x2="385.95000000000005" y2="204.2" stroke="#aaa" stroke-width="0.8"/>
<rect x="376.8" y="215.2" width="13.800000000000011" height="77.19999999999999" fill="#252525" stroke="#111" stroke-width="0.6"/>
<line x1="383.70000000000005" y1="292.4" x2="383.70000000000005" y2="294.4" stroke="#333" stroke-width="0.9"/>
<text x="0" y="0" transform="translate(386.30000000000007 295.5) rotate(-90)" font-size="8.3" text-anchor="end" font-weight="bold" fill="#111">TCR-<tspan font-family="Liberation Serif" font-weight="normal" font-size="9.6">&#947;&#948;</tspan></text>
<polygon points="383.10,196.40 383.87,198.45 386.05,198.54 384.34,199.90 384.92,202.01 383.10,200.80 381.28,202.01 381.86,199.90 380.15,198.54 382.33,198.45" fill="#111"/>
<line x1="289.4" y1="292.4" x2="390.9" y2="292.4" stroke="#333" stroke-width="1.0"/>
<text x="465.9" y="180.3" font-size="9.1" text-anchor="middle" font-weight="bold" fill="#111">CXCL12/SDF-1</text>
<line x1="416.5" y1="195.1" x2="416.5" y2="292.9" stroke="#333" stroke-width="1.0"/>
<line x1="413.5" y1="292.9" x2="416.5" y2="292.9" stroke="#333" stroke-width="0.9"/>
<text x="413.55" y="295.54999999999995" font-size="7.4" text-anchor="end" font-weight="bold" fill="#111">0</text>
<line x1="413.5" y1="268.575" x2="416.5" y2="268.575" stroke="#333" stroke-width="0.9"/>
<text x="413.55" y="271.22499999999997" font-size="7.4" text-anchor="end" font-weight="bold" fill="#111">2500</text>
<line x1="413.5" y1="244.24999999999997" x2="416.5" y2="244.24999999999997" stroke="#333" stroke-width="0.9"/>
<text x="413.55" y="246.89999999999998" font-size="7.4" text-anchor="end" font-weight="bold" fill="#111">5000</text>
<line x1="413.5" y1="219.92499999999998" x2="416.5" y2="219.92499999999998" stroke="#333" stroke-width="0.9"/>
<text x="413.55" y="222.575" font-size="7.4" text-anchor="end" font-weight="bold" fill="#111">7500</text>
<line x1="413.5" y1="195.59999999999997" x2="416.5" y2="195.59999999999997" stroke="#333" stroke-width="0.9"/>
<text x="413.55" y="198.24999999999997" font-size="7.4" text-anchor="end" font-weight="bold" fill="#111">10000</text>
<line x1="425.05" y1="234.3" x2="425.05" y2="230.3" stroke="#909090" stroke-width="0.8"/>
<line x1="422.25" y1="230.3" x2="427.85" y2="230.3" stroke="#909090" stroke-width="0.8"/>
<rect x="418.7" y="234.3" width="13.800000000000011" height="58.599999999999966" fill="#ffffff" stroke="#8a8a8a" stroke-width="0.6"/>
<line x1="425.6" y1="292.9" x2="425.6" y2="294.9" stroke="#333" stroke-width="0.9"/>
<text x="0" y="0" transform="translate(429.20000000000005 296.0) rotate(-90)" font-size="8.3" text-anchor="end" font-weight="bold" fill="#111">CTR</text>
<line x1="442.0" y1="230.3" x2="442.0" y2="225.4" stroke="#a8a8a8" stroke-width="0.8"/>
<line x1="439.2" y1="225.4" x2="444.8" y2="225.4" stroke="#a8a8a8" stroke-width="0.8"/>
<rect x="435.8" y="230.3" width="13.5" height="62.599999999999966" fill="#c20000" stroke="#7a0000" stroke-width="0.6"/>
<line x1="442.55" y1="292.9" x2="442.55" y2="294.9" stroke="#333" stroke-width="0.9"/>
<text x="0" y="0" transform="translate(445.15000000000003 296.0) rotate(-90)" font-size="8.3" text-anchor="end" font-weight="bold" fill="#111">NKp30</text>
<line x1="459.24999999999994" y1="231.7" x2="459.24999999999994" y2="227.3" stroke="#a0a0b8" stroke-width="0.8"/>
<line x1="456.44999999999993" y1="227.3" x2="462.04999999999995" y2="227.3" stroke="#a0a0b8" stroke-width="0.8"/>
<rect x="452.9" y="231.7" width="13.800000000000011" height="61.19999999999999" fill="#0a0a9c" stroke="#00005a" stroke-width="0.6"/>
<line x1="459.79999999999995" y1="292.9" x2="459.79999999999995" y2="294.9" stroke="#333" stroke-width="0.9"/>
<text x="0" y="0" transform="translate(462.4 296.0) rotate(-90)" font-size="8.3" text-anchor="end" font-weight="bold" fill="#111">NKp46</text>
<line x1="475.65" y1="230.3" x2="475.65" y2="226.1" stroke="#a0b0a8" stroke-width="0.8"/>
<line x1="472.84999999999997" y1="226.1" x2="478.45" y2="226.1" stroke="#a0b0a8" stroke-width="0.8"/>
<rect x="469.4" y="230.3" width="13.600000000000023" height="62.599999999999966" fill="#3f8a5c" stroke="#24553a" stroke-width="0.6"/>
<line x1="476.2" y1="292.9" x2="476.2" y2="294.9" stroke="#333" stroke-width="0.9"/>
<text x="0" y="0" transform="translate(478.8 296.0) rotate(-90)" font-size="8.3" text-anchor="end" font-weight="bold" fill="#111">NKp44</text>
<line x1="492.55" y1="235.2" x2="492.55" y2="232.2" stroke="#b0a898" stroke-width="0.8"/>
<line x1="489.75" y1="232.2" x2="495.35" y2="232.2" stroke="#b0a898" stroke-width="0.8"/>
<rect x="486.3" y="235.2" width="13.599999999999966" height="57.69999999999999" fill="#6e3f0c" stroke="#3e2206" stroke-width="0.6"/>
<line x1="493.1" y1="292.9" x2="493.1" y2="294.9" stroke="#333" stroke-width="0.9"/>
<text x="0" y="0" transform="translate(496.70000000000005 296.0) rotate(-90)" font-size="8.3" text-anchor="end" font-weight="bold" fill="#111">NKG2D</text>
<line x1="510.34999999999997" y1="204.6" x2="510.34999999999997" y2="198.9" stroke="#aaa" stroke-width="0.8"/>
<line x1="507.54999999999995" y1="198.9" x2="513.15" y2="198.9" stroke="#aaa" stroke-width="0.8"/>
<rect x="504.2" y="204.6" width="13.400000000000034" height="88.29999999999998" fill="#252525" stroke="#111" stroke-width="0.6"/>
<line x1="510.9" y1="292.9" x2="510.9" y2="294.9" stroke="#333" stroke-width="0.9"/>
<text x="0" y="0" transform="translate(513.5 296.0) rotate(-90)" font-size="8.3" text-anchor="end" font-weight="bold" fill="#111">TCR-<tspan font-family="Liberation Serif" font-weight="normal" font-size="9.6">&#947;&#948;</tspan></text>
<polygon points="510.30,190.90 511.07,192.95 513.25,193.04 511.54,194.40 512.12,196.51 510.30,195.30 508.48,196.51 509.06,194.40 507.35,193.04 509.53,192.95" fill="#111"/>
<line x1="416.5" y1="292.9" x2="519.0" y2="292.9" stroke="#333" stroke-width="1.0"/>
</svg>
</body></html>
